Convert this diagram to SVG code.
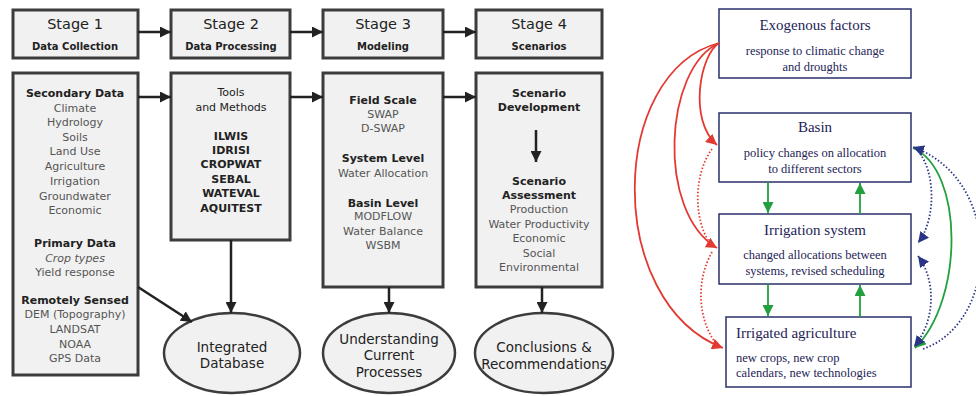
<svg xmlns="http://www.w3.org/2000/svg" width="976" height="396" viewBox="0 0 976 396">
<defs>
<marker id="ak" viewBox="0 0 10 10" refX="10" refY="5" markerWidth="11" markerHeight="11" markerUnits="userSpaceOnUse" orient="auto"><path d="M0,0 L10,5 L0,10 z" fill="#222"/></marker>
<marker id="ar" viewBox="0 0 10 10" refX="10" refY="5" markerWidth="11" markerHeight="11" markerUnits="userSpaceOnUse" orient="auto"><path d="M0,0 L10,5 L0,10 z" fill="#e23a32"/></marker>
<marker id="ag" viewBox="0 0 10 10" refX="10" refY="5" markerWidth="11" markerHeight="11" markerUnits="userSpaceOnUse" orient="auto-start-reverse"><path d="M0,0 L10,5 L0,10 z" fill="#22a03e"/></marker>
<marker id="ab" viewBox="0 0 10 10" refX="10" refY="5" markerWidth="11" markerHeight="11" markerUnits="userSpaceOnUse" orient="auto-start-reverse"><path d="M0,0 L10,5 L0,10 z" fill="#2a3585"/></marker>
</defs>
<style>
.box{fill:#f1f1f1;stroke:#3c3c3c;stroke-width:3}
.ell{fill:#f1f1f1;stroke:#3c3c3c;stroke-width:2.5}
.t{font-family:"DejaVu Sans",sans-serif;text-anchor:middle}
.st{font-size:14.5px;fill:#222}
.sub{font-size:10px;font-weight:bold;fill:#222}
.h{font-size:11px;font-weight:bold;fill:#222}
.n{font-size:11px;fill:#555}
.d{font-size:11px;fill:#222}
.big{font-size:13.5px;fill:#222}
.blk{stroke:#222;stroke-width:2.5;fill:none}
.rb{fill:#fff;stroke:#2a2f6a;stroke-width:1.5}
.s{font-family:"Liberation Serif",serif;fill:#1e2456}
.sh{font-size:15px}
.sn{font-size:12.5px}
.red{stroke:#e23a32;stroke-width:1.8;fill:none}
.redd{stroke:#e23a32;stroke-width:1.8;fill:none;stroke-dasharray:1.5 2}
.grn{stroke:#22a03e;stroke-width:1.8;fill:none}
.blu{stroke:#2a3585;stroke-width:1.8;fill:none;stroke-dasharray:1.5 2}
</style>

<g id="stage1"><rect class="box" x="13" y="10" width="125" height="48"/>
<text class="t st" x="75" y="29">Stage 1</text><text class="t sub" x="75" y="50">Data Collection</text></g>
<g id="stage2"><rect class="box" x="171" y="10" width="119" height="48"/>
<text class="t st" x="231" y="29">Stage 2</text><text class="t sub" x="231" y="50">Data Processing</text></g>
<g id="stage3"><rect class="box" x="323" y="10" width="120" height="48"/>
<text class="t st" x="383" y="29">Stage 3</text><text class="t sub" x="383" y="50">Modeling</text></g>
<g id="stage4"><rect class="box" x="476" y="10" width="126" height="48"/>
<text class="t st" x="539" y="29">Stage 4</text><text class="t sub" x="539" y="50">Scenarios</text></g>

<g id="collection"><rect class="box" x="13" y="73" width="125" height="302"/>
<text class="t h" x="75" y="97">Secondary Data</text>
<text class="t n" x="75" y="112">Climate</text>
<text class="t n" x="75" y="126">Hydrology</text>
<text class="t n" x="75" y="141">Soils</text>
<text class="t n" x="75" y="155">Land Use</text>
<text class="t n" x="75" y="170">Agriculture</text>
<text class="t n" x="75" y="185">Irrigation</text>
<text class="t n" x="75" y="200">Groundwater</text>
<text class="t n" x="75" y="214">Economic</text>
<text class="t h" x="75" y="247">Primary Data</text>
<text class="t n" x="75" y="262" font-style="italic">Crop types</text>
<text class="t n" x="75" y="276">Yield response</text>
<text class="t h" x="75" y="304">Remotely Sensed</text>
<text class="t n" x="75" y="318">DEM (Topography)</text>
<text class="t n" x="75" y="333">LANDSAT</text>
<text class="t n" x="75" y="348">NOAA</text>
<text class="t n" x="75" y="362">GPS Data</text></g>

<g id="tools"><rect class="box" x="171" y="73" width="119" height="167"/>
<text class="t d" x="231" y="96">Tools</text>
<text class="t d" x="231" y="111">and Methods</text>
<text class="t h" x="231" y="140">ILWIS</text>
<text class="t h" x="231" y="154">IDRISI</text>
<text class="t h" x="231" y="168">CROPWAT</text>
<text class="t h" x="231" y="183">SEBAL</text>
<text class="t h" x="231" y="197">WATEVAL</text>
<text class="t h" x="231" y="212">AQUITEST</text></g>

<g id="modeling"><rect class="box" x="323" y="73" width="120" height="214"/>
<text class="t h" x="383" y="104">Field Scale</text>
<text class="t n" x="383" y="118">SWAP</text>
<text class="t n" x="383" y="132">D-SWAP</text>
<text class="t h" x="383" y="162">System Level</text>
<text class="t n" x="383" y="177">Water Allocation</text>
<text class="t h" x="383" y="207">Basin Level</text>
<text class="t n" x="383" y="220">MODFLOW</text>
<text class="t n" x="383" y="235">Water Balance</text>
<text class="t n" x="383" y="249">WSBM</text></g>

<g id="scenarios"><rect class="box" x="476" y="73" width="126" height="214"/>
<text class="t h" x="539" y="97">Scenario</text>
<text class="t h" x="539" y="111">Development</text>
<text class="t h" x="539" y="185">Scenario</text>
<text class="t h" x="539" y="199">Assessment</text>
<text class="t n" x="539" y="213">Production</text>
<text class="t n" x="539" y="228">Water Productivity</text>
<text class="t n" x="539" y="242">Economic</text>
<text class="t n" x="539" y="257">Social</text>
<text class="t n" x="539" y="271">Environmental</text></g>

<g id="database"><ellipse class="ell" cx="232" cy="353" rx="68" ry="40"/>
<text class="t big" x="232" y="352">Integrated</text><text class="t big" x="232" y="368">Database</text></g>
<g id="understanding"><ellipse class="ell" cx="389" cy="353" rx="66" ry="40"/>
<text class="t big" x="389" y="344">Understanding</text><text class="t big" x="389" y="360">Current</text><text class="t big" x="389" y="377">Processes</text></g>
<g id="conclusions"><ellipse class="ell" cx="544" cy="353" rx="69" ry="40"/>
<text class="t big" x="544" y="352">Conclusions &amp;</text><text class="t big" x="544" y="369">Recommendations</text></g>

<g id="exogenous"><rect class="rb" x="719" y="9" width="192" height="69"/>
<text class="s sh" x="815" y="30" text-anchor="middle">Exogenous factors</text>
<text class="s sn" x="815" y="55" text-anchor="middle">response to climatic change</text>
<text class="s sn" x="815" y="71" text-anchor="middle">and droughts</text></g>
<g id="basin"><rect class="rb" x="719" y="113" width="192" height="69"/>
<text class="s sh" x="815" y="132" text-anchor="middle">Basin</text>
<text class="s sn" x="815" y="157" text-anchor="middle">policy changes on allocation</text>
<text class="s sn" x="815" y="173" text-anchor="middle">to different sectors</text></g>
<g id="irrigation"><rect class="rb" x="719" y="214" width="192" height="70"/>
<text class="s sh" x="815" y="235" text-anchor="middle">Irrigation system</text>
<text class="s sn" x="815" y="259" text-anchor="middle">changed allocations between</text>
<text class="s sn" x="815" y="275" text-anchor="middle">systems, revised scheduling</text></g>
<g id="agriculture"><rect class="rb" x="726" y="317" width="185" height="70"/>
<text class="s sh" x="736" y="338">Irrigated agriculture</text>
<text class="s sn" x="736" y="362">new crops, new crop</text>
<text class="s sn" x="736" y="377">calendars, new technologies</text></g>

<g id="connectors">
<line class="blk" x1="138" y1="32" x2="171" y2="32" marker-end="url(#ak)"/>
<line class="blk" x1="290" y1="32" x2="323" y2="32" marker-end="url(#ak)"/>
<line class="blk" x1="443" y1="32" x2="476" y2="32" marker-end="url(#ak)"/>
<line class="blk" x1="138" y1="97" x2="171" y2="97" marker-end="url(#ak)"/>
<line class="blk" x1="290" y1="97" x2="323" y2="97" marker-end="url(#ak)"/>
<line class="blk" x1="443" y1="97" x2="476" y2="97" marker-end="url(#ak)"/>
<line class="blk" x1="536" y1="130" x2="536" y2="162" marker-end="url(#ak)"/>
<line class="blk" x1="231" y1="240" x2="231" y2="313" marker-end="url(#ak)"/>
<line class="blk" x1="138" y1="287" x2="192" y2="322" marker-end="url(#ak)"/>
<line class="blk" x1="389" y1="287" x2="389" y2="313" marker-end="url(#ak)"/>
<line class="blk" x1="542" y1="287" x2="542" y2="313" marker-end="url(#ak)"/>

<path class="red" d="M719,43 C700,55 688,120 717,145" marker-end="url(#ar)"/>
<path class="red" d="M719,43 C664,68 656,212 717,248" marker-end="url(#ar)"/>
<path class="red" d="M719,43 C608,72 604,302 723,348" marker-end="url(#ar)"/>
<path class="redd" d="M712,149 C693,175 693,222 712,246"/>
<path class="redd" d="M712,252 C695,282 698,322 718,346"/>

<line class="grn" x1="768" y1="182" x2="768" y2="213" marker-end="url(#ag)"/>
<line class="grn" x1="860" y1="214" x2="860" y2="183" marker-end="url(#ag)"/>
<line class="grn" x1="768" y1="284" x2="768" y2="316" marker-end="url(#ag)"/>
<line class="grn" x1="860" y1="317" x2="860" y2="285" marker-end="url(#ag)"/>
<path class="grn" d="M913,148 C964,170 964,300 915,348" marker-end="url(#ag)"/>

<path class="blu" d="M923,349 C1000,322 1004,180 913,147" marker-end="url(#ab)"/>
<path class="blu" d="M918,151 C936,172 936,220 918,243" marker-end="url(#ab)"/>
<path class="blu" d="M918,256 C936,280 936,320 914,347" marker-start="url(#ab)" marker-end="url(#ab)"/>
</g>
</svg>
